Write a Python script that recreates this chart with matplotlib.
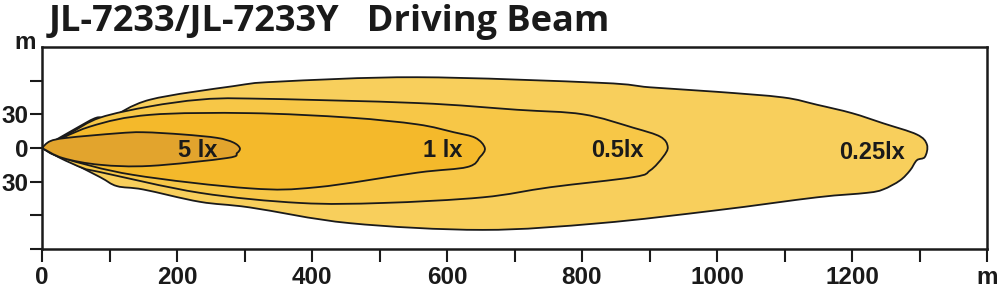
import matplotlib.pyplot as plt
from matplotlib.path import Path
from matplotlib.patches import PathPatch

# --------------------------------------------
# Data (metres)
# --------------------------------------------
lx025_x = [0, 52, 81, 101, 160, 283, 348, 556, 827, 901, 1000, 1098, 1148, 1200, 1246, 1296, 1311,
           1308, 1296, 1286, 1271, 1246, 1222, 1148, 1000, 827, 653, 456, 308, 234, 150, 111, 86, 37]
lx025_y = [0, 18, 27, 27, 43, 55, 59, 63, 58, 54, 50, 45, 38.5, 31, 22, 12, 3,
           -8, -11, -20, -29, -37, -40, -44, -55.5, -67, -73, -67, -53, -48, -37, -34, -26, -11]

lx05_x = [0, 41, 86, 160, 234, 308, 556, 704, 801, 876, 916, 927, 920, 901, 876, 753, 653, 505, 382, 234, 86, 61, 27]
lx05_y = [0, 13, 27, 37, 43, 44, 40, 34, 30, 18, 10, 1, -8, -20, -26, -35, -44, -49, -49, -40, -21.5, -18, -9]

lx1_x = [0, 71, 160, 308, 456, 556, 610, 642, 656, 649, 630, 556, 407, 308, 135, 31]
lx1_y = [0, 19, 29.5, 31, 27, 21, 14, 9, 0, -8, -17, -22, -35, -36, -24, -9]

lx5_x = [0, 12, 37, 111, 150, 209, 259, 283, 293, 289, 274, 160, 86, 31]
lx5_y = [0, 6, 9, 13, 14, 12, 9, 5, 0, -4.5, -9, -16, -15, -9]

zones = ["0.25lx", "0.5lx", "1 lx", "5 lx"]
zone_x = [lx025_x, lx05_x, lx1_x, lx5_x]
zone_y = [lx025_y, lx05_y, lx1_y, lx5_y]
zone_colors = ["#F8CF5C", "#F7C747", "#F4B92B", "#E2A42D"]
label_pos = [(1230, -4.5), (852, -2), (593, -2), (231, -2)]

x_ticks = list(range(0, 1401, 100))
x_labels = ["0", "", "200", "", "400", "", "600", "", "800", "", "1000", "", "1200", "", "m"]
y_ticks = [-90, -60, -30, 0, 30, 60]
y_labels = ["", "", "30", "0", "30", ""]


def smooth_outline(xs, ys):
    # closed Catmull-Rom outline drawn as cubic Bezier segments; the origin stays a sharp point
    pts = list(zip(xs, ys))
    n = len(pts)
    verts = [pts[0]]
    codes = [Path.MOVETO]
    for i in range(n):
        p0, p1, p2, p3 = pts[i - 1], pts[i], pts[(i + 1) % n], pts[(i + 2) % n]
        if i == 0:
            p0 = p1
        if (i + 1) % n == 0:
            p3 = p2
        c1 = (p1[0] + (p2[0] - p0[0]) / 6, p1[1] + (p2[1] - p0[1]) / 6)
        c2 = (p2[0] - (p3[0] - p1[0]) / 6, p2[1] - (p3[1] - p1[1]) / 6)
        verts += [c1, c2, p2]
        codes += [Path.CURVE4] * 3
    return Path(verts, codes)


# --------------------------------------------
# Figure
# --------------------------------------------
fig = plt.figure(figsize=(10, 2.95), dpi=100)
ax = fig.add_axes([0.042, 0.156, 0.945, 0.685])

for xs, ys, c in zip(zone_x, zone_y, zone_colors):
    ax.add_patch(PathPatch(smooth_outline(xs, ys), facecolor=c,
                           edgecolor="#1a1a1a", linewidth=1.3, joinstyle="round"))

for name, (lx, ly) in zip(zones, label_pos):
    ax.text(lx, ly, name, ha="center", va="center", fontsize=17,
            fontweight="bold", family="Liberation Sans", color="#1a1a1a")

ax.set_xlim(0, 1400)
ax.set_ylim(-90, 90)
ax.set_xticks(x_ticks)
ax.set_xticklabels(x_labels)
ax.set_yticks(y_ticks)
ax.set_yticklabels(y_labels)

for lbl in ax.get_xticklabels() + ax.get_yticklabels():
    lbl.set_fontsize(17.5)
    lbl.set_fontweight("bold")
    lbl.set_family("Liberation Sans")
    lbl.set_color("#1a1a1a")

ax.tick_params(axis="both", direction="out", length=9, width=1.5, color="#1a1a1a")
ax.tick_params(axis="x", pad=3)
ax.tick_params(axis="y", pad=1)
for s in ax.spines.values():
    s.set_linewidth(1.8)
    s.set_color("#1a1a1a")

fig.text(0.014, 0.855, "m", fontsize=17.5, fontweight="bold", family="Liberation Sans",
         ha="left", va="center", color="#1a1a1a")
fig.text(0.049, 0.925, "JL-7233/JL-7233Y   Driving Beam", fontsize=26, fontweight="bold",
         family="Open Sans", ha="left", va="center", color="#1a1a1a")

plt.savefig("out.png", dpi=100)
plt.close()
